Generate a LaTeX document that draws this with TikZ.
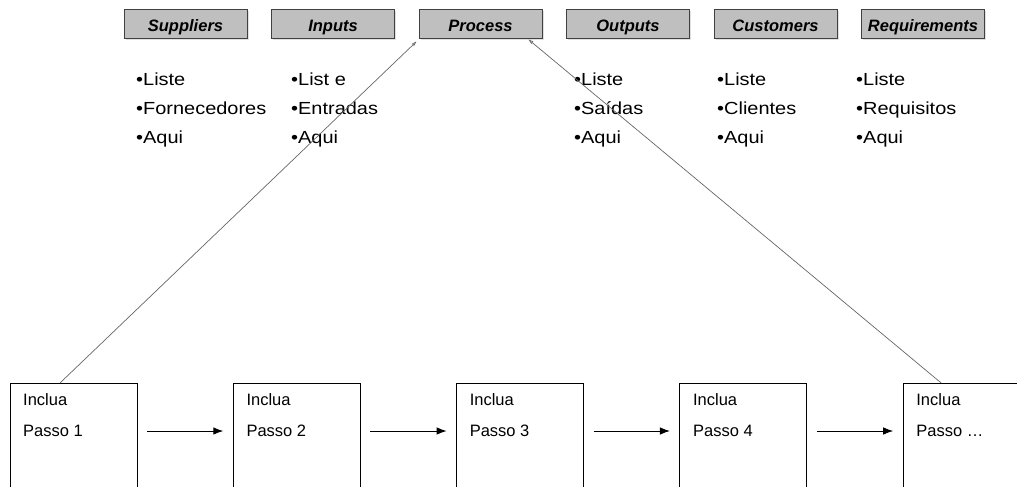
\documentclass[tikz,border=0pt]{standalone}
\usepackage{fontspec}
\setmainfont{Liberation Sans}
\newfontfamily\listfont[FakeStretch=1.14]{Liberation Sans}
\usetikzlibrary{arrows.meta}
\begin{document}
\begin{tikzpicture}[x=1pt,y=-1pt,
  header/.style={draw=black!75, fill=black!25, line width=0.9pt,
    minimum width=123pt, minimum height=29pt, inner sep=0pt,
    text height=17pt, text depth=0pt,
    font=\fontsize{16.5}{18}\selectfont\bfseries\itshape},
  shadowbox/.style={fill=black!12},
  itemlist/.style={anchor=north west, align=left, inner sep=0pt,
    font=\listfont\fontsize{17.5}{29}\selectfont},
  stepbox/.style={draw=black, line width=0.9pt},
  steptext/.style={anchor=north west, align=left, inner sep=0pt,
    font=\fontsize{16.5}{31}\selectfont},
  flow/.style={-{Latex[length=10pt,width=7.5pt]}, line width=0.9pt},
  link/.style={draw=black!60, line width=0.7pt,
    {Triangle[open,length=5pt,width=3pt]}-}]
\useasboundingbox (0,0) rectangle (1017,487);
\clip (0,0) rectangle (1017,487);

% SIPOC headers with soft shadows
\foreach \nm/\lbl [count=\i from 0] in {sup/Suppliers, inp/Inputs, pro/Process, out/Outputs, cus/Customers, req/Requirements}{
  \fill[shadowbox] (125.5+147.5*\i,11.5) rectangle ++(123,29);
  \node[header] (\nm) at (185.5+147.5*\i,23.5) {\lbl};
}

% item lists under each header
\node[itemlist] (lsup) at (136,73) {•Liste\\•Fornecedores\\•Aqui};
\node[itemlist] (linp) at (291,73) {•List e\\•Entradas\\•Aqui};
\node[itemlist] (lout) at (574,73) {•Liste\\•Saídas\\•Aqui};
\node[itemlist] (lcus) at (717,73) {•Liste\\•Clientes\\•Aqui};
\node[itemlist] (lreq) at (856,73) {•Liste\\•Requisitos\\•Aqui};

% process steps
\foreach \i/\lbl in {1/1, 2/2, 3/3, 4/4, 5/{\dots}}{
  \pgfmathsetmacro{\bx}{10+223.3*(\i-1)}
  \draw[stepbox] (\bx,383) rectangle ++(127,120);
  \coordinate (s\i) at (\bx,383);
  \coordinate (m\i) at (\bx,431);
  \node[steptext] (t\i) at (\bx+13,393) {Inclua\\Passo \lbl};
}
\foreach \a/\b in {1/2, 2/3, 3/4, 4/5}{
  \draw[flow] ([xshift=137pt]m\a) -- ([xshift=-10pt]m\b);
}

% zoom lines from the Process header to the first and last steps
\coordinate (pl) at ([xshift=-2pt,yshift=-3pt]pro.south west);
\coordinate (pr) at ([xshift=-14pt,yshift=-1pt]pro.south east);
\draw[link] (pl) -- ([xshift=50pt]s1);
\draw[link] (pr) -- ([xshift=38pt]s5);
\end{tikzpicture}
\end{document}
